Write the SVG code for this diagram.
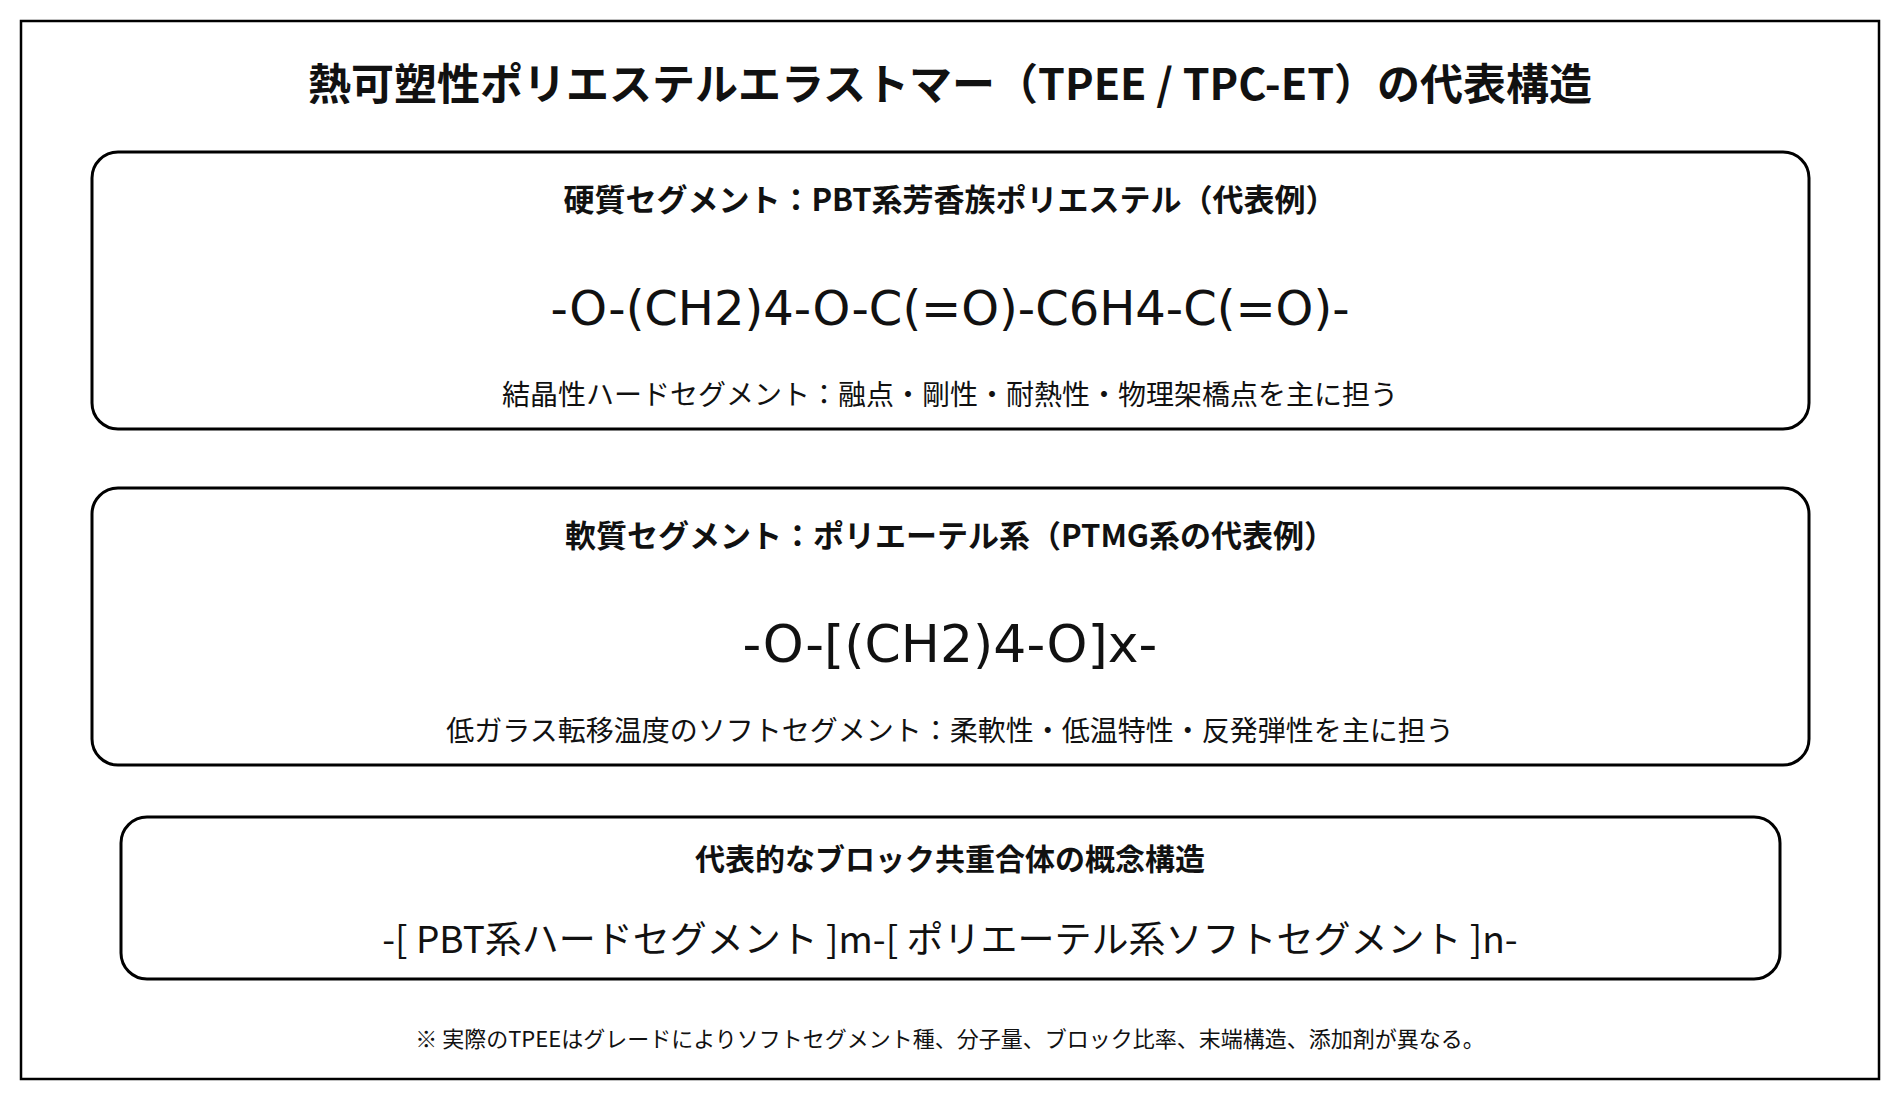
<svg xmlns="http://www.w3.org/2000/svg" width="1900" height="1100" viewBox="0 0 1900 1100">
<style>
text{font-family:"Noto Sans CJK JP","Noto Sans",sans-serif;fill:#111;text-anchor:middle}
.title{font-size:43px;font-weight:700}
.head{font-size:31px;font-weight:700}
.head3{font-size:30px;font-weight:700}
.formula{font-family:"DejaVu Sans","Noto Sans CJK JP",sans-serif;font-size:48px}
.formula2{font-family:"DejaVu Sans","Noto Sans CJK JP",sans-serif;font-size:52px}
.desc{font-size:28px}
.formula3{font-size:37px}
.note{font-size:22px}
.box{fill:#fff;stroke:#000;stroke-width:3}
</style>
<rect x="0" y="0" width="1900" height="1100" fill="#fff"/>
<rect id="frame" x="21" y="21" width="1858" height="1058" fill="none" stroke="#000" stroke-width="2.5"/>
<text class="title" x="950" y="100">熱可塑性ポリエステルエラストマー（TPEE / TPC-ET）の代表構造</text>
<g id="hard">
<rect class="box" x="92" y="152" width="1717" height="277" rx="26"/>
<text class="head" x="950" y="211">硬質セグメント：PBT系芳香族ポリエステル（代表例）</text>
<text class="formula" x="950" y="325">-O-(CH2)4-O-C(=O)-C6H4-C(=O)-</text>
<text class="desc" x="950" y="405">結晶性ハードセグメント：融点・剛性・耐熱性・物理架橋点を主に担う</text>
</g>
<g id="soft">
<rect class="box" x="92" y="488" width="1717" height="277" rx="26"/>
<text class="head" x="950" y="547">軟質セグメント：ポリエーテル系（PTMG系の代表例）</text>
<text class="formula2" x="950" y="662">-O-[(CH2)4-O]x-</text>
<text class="desc" x="950" y="741">低ガラス転移温度のソフトセグメント：柔軟性・低温特性・反発弾性を主に担う</text>
</g>
<g id="block">
<rect class="box" x="121" y="817" width="1659" height="162" rx="26"/>
<text class="head3" x="950" y="870">代表的なブロック共重合体の概念構造</text>
<text class="formula3" x="950" y="953">-[ PBT系ハードセグメント ]m-[ ポリエーテル系ソフトセグメント ]n-</text>
</g>
<g id="connectors"/>
<text class="note" x="950" y="1047">※ 実際のTPEEはグレードによりソフトセグメント種、分子量、ブロック比率、末端構造、添加剤が異なる。</text>
</svg>
